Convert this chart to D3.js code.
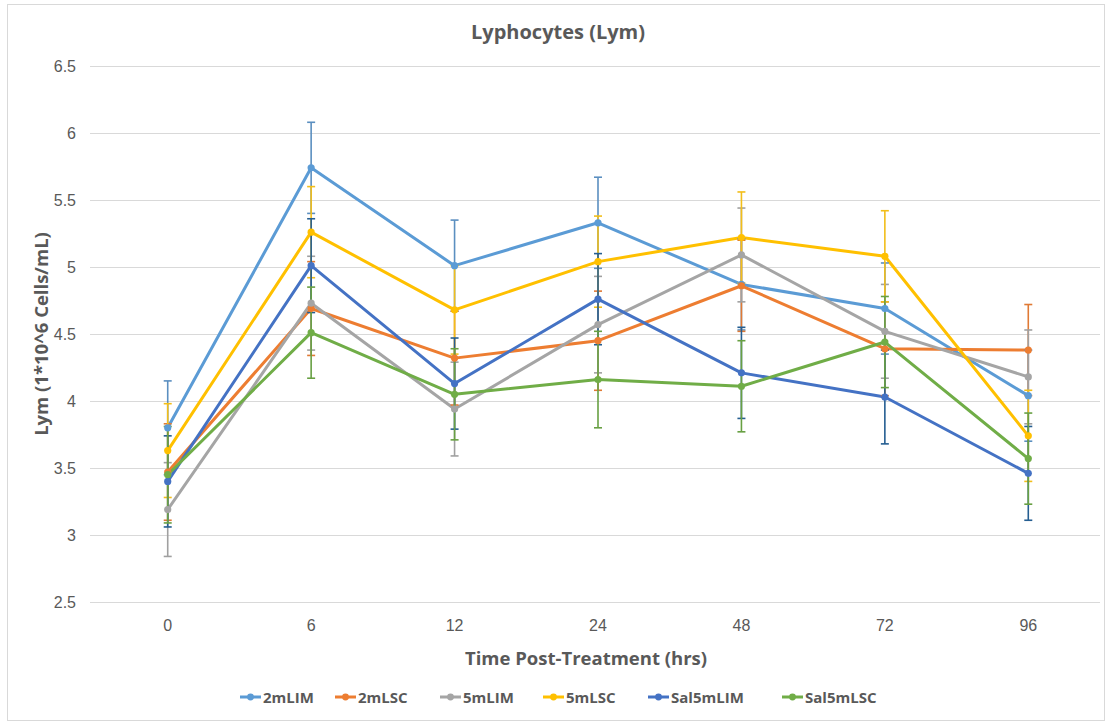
<!DOCTYPE html>
<html>
<head>
<meta charset="utf-8">
<script src="https://cdn.jsdelivr.net/npm/d3@7"></script>
<style>
  html, body { margin: 0; padding: 0; background: #fff; }
  svg { display: block; font-family: "Open Sans", Lato, sans-serif; }
</style>
</head>
<body>
<svg id="chart" width="1106" height="724"></svg>
<script>
// Time points (hrs)
const categories = ["0", "6", "12", "24", "48", "72", "96"];
const seriesNames = ["2mLIM", "2mLSC", "5mLIM", "5mLSC", "Sal5mLIM", "Sal5mLSC"];
const seriesColors = ["#5B9BD5", "#ED7D31", "#A5A5A5", "#FFC000", "#4472C4", "#70AD47"];
const errorColors = ["#5B8FC0", "#E07A35", "#A0A0A0", "#F2BE1A", "#255E91", "#68A043"];

// Mean Lym per time point
const lim2m    = [3.80, 5.74, 5.01, 5.33, 4.87, 4.69, 4.04];
const lsc2m    = [3.47, 4.69, 4.32, 4.45, 4.86, 4.39, 4.38];
const lim5m    = [3.19, 4.73, 3.94, 4.57, 5.09, 4.52, 4.18];
const lsc5m    = [3.63, 5.26, 4.68, 5.04, 5.22, 5.08, 3.74];
const salLim5m = [3.40, 5.01, 4.13, 4.76, 4.21, 4.03, 3.46];
const salLsc5m = [3.45, 4.51, 4.05, 4.16, 4.11, 4.44, 3.57];

// Error bar half-lengths
const lim2mErr    = [0.35, 0.34, 0.34, 0.34, 0.34, 0.34, 0.34];
const lsc2mErr    = [0.36, 0.35, 0.35, 0.37, 0.34, 0.35, 0.34];
const lim5mErr    = [0.35, 0.35, 0.35, 0.36, 0.35, 0.35, 0.35];
const lsc5mErr    = [0.35, 0.34, 0.33, 0.34, 0.34, 0.34, 0.34];
const salLim5mErr = [0.34, 0.35, 0.34, 0.34, 0.34, 0.35, 0.35];
const salLsc5mErr = [0.36, 0.34, 0.34, 0.36, 0.34, 0.34, 0.34];

const yTicks = [2.5, 3, 3.5, 4, 4.5, 5, 5.5, 6, 6.5];

const seriesValues = [lim2m, lsc2m, lim5m, lsc5m, salLim5m, salLsc5m];
const seriesErrors = [lim2mErr, lsc2mErr, lim5mErr, lsc5mErr, salLim5mErr, salLsc5mErr];

const series = seriesNames.map((name, i) => ({
  name,
  color: seriesColors[i],
  errColor: errorColors[i],
  points: categories.map((c, j) => ({ cat: c, v: seriesValues[i][j], e: seriesErrors[i][j] }))
}));

const svg = d3.select("#chart");
const textColor = "#595959";

// Chart frame
svg.append("rect")
  .attr("x", 7.5).attr("y", 4.5).attr("width", 1097).attr("height", 716)
  .attr("fill", "#fff").attr("stroke", "#d9d9d9").attr("stroke-width", 1);

const plot = { left: 90, right: 1100, top: 66, bottom: 602 };

const x = d3.scaleBand().domain(categories).range([96, 1100]);
const xc = c => x(c) + x.bandwidth() / 2;
const y = d3.scaleLinear().domain([2.5, 6.5]).range([plot.bottom, plot.top]);

// Horizontal gridlines with value labels
const yAxis = d3.axisLeft(y).tickValues(yTicks).tickSize(-(plot.right - plot.left)).tickPadding(14)
  .tickFormat(d3.format("~g"));
const gy = svg.append("g").attr("transform", `translate(${plot.left},0)`).call(yAxis);
gy.select(".domain").remove();
gy.selectAll(".tick line").attr("stroke", "#d9d9d9").attr("stroke-width", 1);
gy.selectAll(".tick text").attr("fill", textColor).attr("font-size", 16);

// Category labels
const xAxis = d3.axisBottom(x).tickSize(0).tickPadding(18);
const gx = svg.append("g").attr("transform", `translate(0,${plot.bottom})`).call(xAxis);
gx.select(".domain").remove();
gx.selectAll(".tick text").attr("fill", textColor).attr("font-size", 16);

// Series lines
const line = d3.line().x(d => xc(d.cat)).y(d => y(d.v));
svg.append("g").selectAll("path").data(series).join("path")
  .attr("d", d => line(d.points))
  .attr("fill", "none")
  .attr("stroke", d => d.color)
  .attr("stroke-width", 3)
  .attr("stroke-linejoin", "round");

// Error bars
const eg = svg.append("g");
series.forEach(s => {
  const g = eg.append("g").attr("stroke", s.errColor).attr("stroke-width", 1.6);
  g.selectAll("line.v").data(s.points).join("line").attr("class", "v")
    .attr("x1", d => xc(d.cat)).attr("x2", d => xc(d.cat))
    .attr("y1", d => y(d.v + d.e)).attr("y2", d => y(d.v - d.e));
  g.selectAll("line.t").data(s.points).join("line").attr("class", "t")
    .attr("x1", d => xc(d.cat) - 4).attr("x2", d => xc(d.cat) + 4)
    .attr("y1", d => y(d.v + d.e)).attr("y2", d => y(d.v + d.e));
  g.selectAll("line.b").data(s.points).join("line").attr("class", "b")
    .attr("x1", d => xc(d.cat) - 4).attr("x2", d => xc(d.cat) + 4)
    .attr("y1", d => y(d.v - d.e)).attr("y2", d => y(d.v - d.e));
});

// Markers
const mg = svg.append("g");
series.forEach(s => {
  mg.append("g").selectAll("circle").data(s.points).join("circle")
    .attr("cx", d => xc(d.cat)).attr("cy", d => y(d.v)).attr("r", 3.6)
    .attr("fill", s.color);
});

// Title
svg.append("text")
  .attr("x", 558).attr("y", 39).attr("text-anchor", "middle")
  .attr("font-size", 20).attr("font-weight", "bold").attr("fill", textColor)
  .text("Lyphocytes (Lym)");

// Axis titles
svg.append("text")
  .attr("x", 586).attr("y", 665).attr("text-anchor", "middle")
  .attr("font-size", 18.5).attr("font-weight", "bold").attr("fill", textColor)
  .text("Time Post-Treatment (hrs)");

svg.append("text")
  .attr("transform", `translate(48,${(plot.top + plot.bottom) / 2}) rotate(-90)`)
  .attr("text-anchor", "middle")
  .attr("font-size", 18.5).attr("font-weight", "bold").attr("fill", textColor)
  .text("Lym (1*10^6 Cells/mL)");

// Legend
const legend = svg.append("g").attr("transform", "translate(0,697)");
const legendX = [240, 335, 440, 543, 648, 782];
series.forEach((s, i) => {
  const g = legend.append("g").attr("transform", `translate(${legendX[i]},0)`);
  g.append("line").attr("x1", 0).attr("x2", 21).attr("y1", 0).attr("y2", 0)
    .attr("stroke", s.color).attr("stroke-width", 3);
  g.append("circle").attr("cx", 10.5).attr("cy", 0).attr("r", 3.4).attr("fill", s.color);
  g.append("text").attr("x", 23).attr("y", 5.5)
    .attr("font-size", 15).attr("font-weight", "bold").attr("fill", textColor)
    .text(s.name);
});
</script>
</body>
</html>
